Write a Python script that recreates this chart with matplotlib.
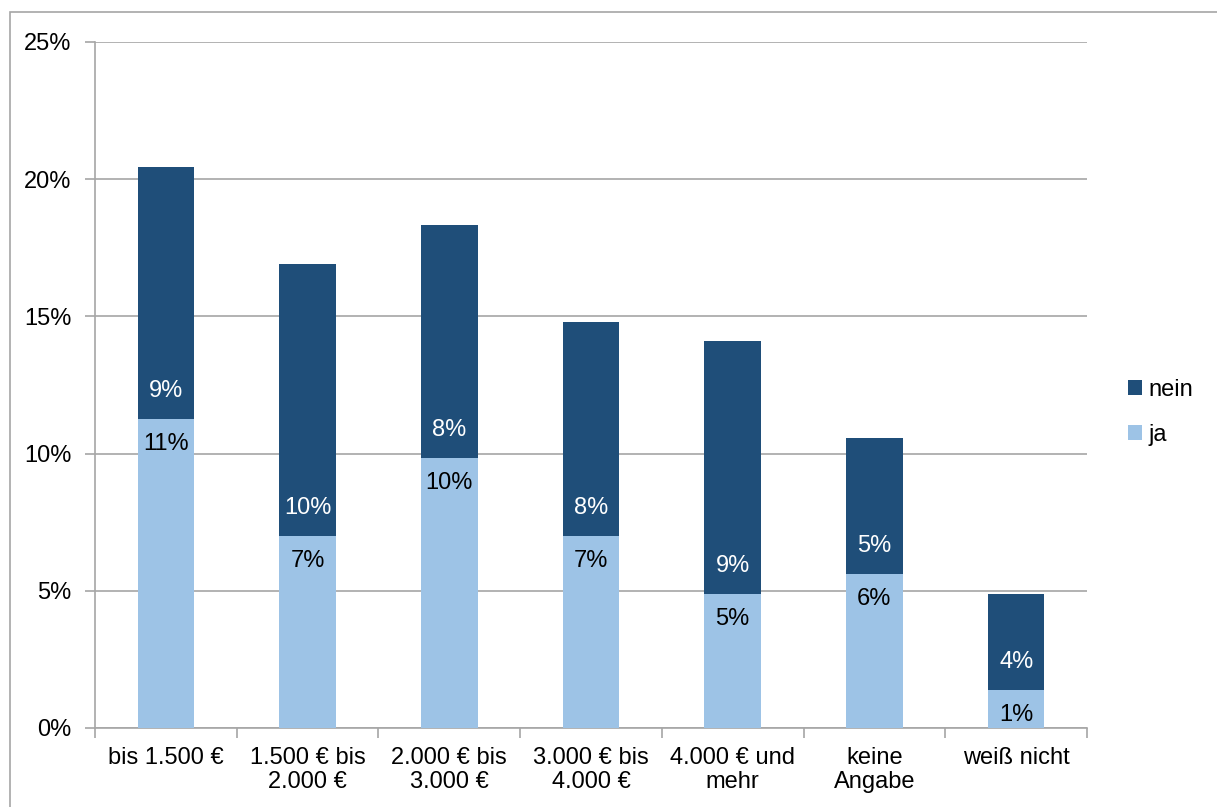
import matplotlib.pyplot as plt
from matplotlib.patches import Rectangle
import numpy as np

plt.rcParams['font.family'] = ['Liberation Sans', 'DejaVu Sans']

categories = ["bis 1.500 €", "1.500 € bis\n2.000 €", "2.000 € bis\n3.000 €",
              "3.000 € bis\n4.000 €", "4.000 € und\nmehr", "keine\nAngabe", "weiß nicht"]
ja = [11.26, 7.0, 9.84, 7.0, 4.88, 5.61, 1.38]
nein = [9.18, 9.91, 8.49, 7.80, 9.22, 4.96, 3.52]
yticks = [0, 5, 10, 15, 20, 25]

dark = '#1f4e79'
light = '#9dc3e6'
grid_col = '#a6a6a6'
fs = 17

fig = plt.figure(figsize=(12.17, 8.07), dpi=100)
ax = fig.add_axes([95 / 1217, 1 - 728 / 807, (1087 - 95) / 1217, (728 - 42) / 807])

# outer frame of the chart
fig.patches.append(Rectangle((10 / 1217, -0.1), 1.2, 1 - 12 / 807 + 0.1,
                             transform=fig.transFigure, fill=False,
                             edgecolor='#a6a6a6', linewidth=1.2))

x = np.arange(len(categories))
w = 0.4
ax.bar(x, ja, w, color=light, label='ja', zorder=3)
ax.bar(x, nein, w, bottom=ja, color=dark, label='nein', zorder=3)

for i in range(len(x)):
    ax.annotate(f"{ja[i]:.0f}%", (x[i], ja[i]), xytext=(0, -18), textcoords='offset points',
                ha='center', va='center', fontsize=fs, color='black', zorder=4)
    ax.annotate(f"{nein[i]:.0f}%", (x[i], ja[i]), xytext=(0, 20), textcoords='offset points',
                ha='center', va='center', fontsize=fs, color='white', zorder=4)

ax.set_xlim(-0.5, len(x) - 0.5)
ax.set_ylim(0, 25)
ax.set_yticks(yticks)
ax.set_yticklabels([f"{t}%" for t in yticks], fontsize=fs)
ax.yaxis.grid(True, color=grid_col, linewidth=1.2, zorder=0)

ax.set_xticks(x)
ax.set_xticklabels(categories, fontsize=fs, linespacing=1.1)
ax.set_xticks(np.arange(len(x) + 1) - 0.5, minor=True)
ax.tick_params(axis='x', which='major', length=0, pad=14)
ax.tick_params(axis='x', which='minor', length=7, color=grid_col, width=1.2)
ax.tick_params(axis='y', length=7, color=grid_col, width=1.2, pad=10)

for side in ['top', 'right']:
    ax.spines[side].set_visible(False)
for side in ['left', 'bottom']:
    ax.spines[side].set_color(grid_col)
    ax.spines[side].set_linewidth(1.2)

handles, labels = ax.get_legend_handles_labels()
ax.legend(handles[::-1], labels[::-1], loc='center left', bbox_to_anchor=(1.02, 0.46),
          frameon=False, fontsize=fs, handlelength=0.6, handleheight=0.6,
          handletextpad=0.25, labelspacing=0.95)

plt.savefig("out.png", dpi=100)
